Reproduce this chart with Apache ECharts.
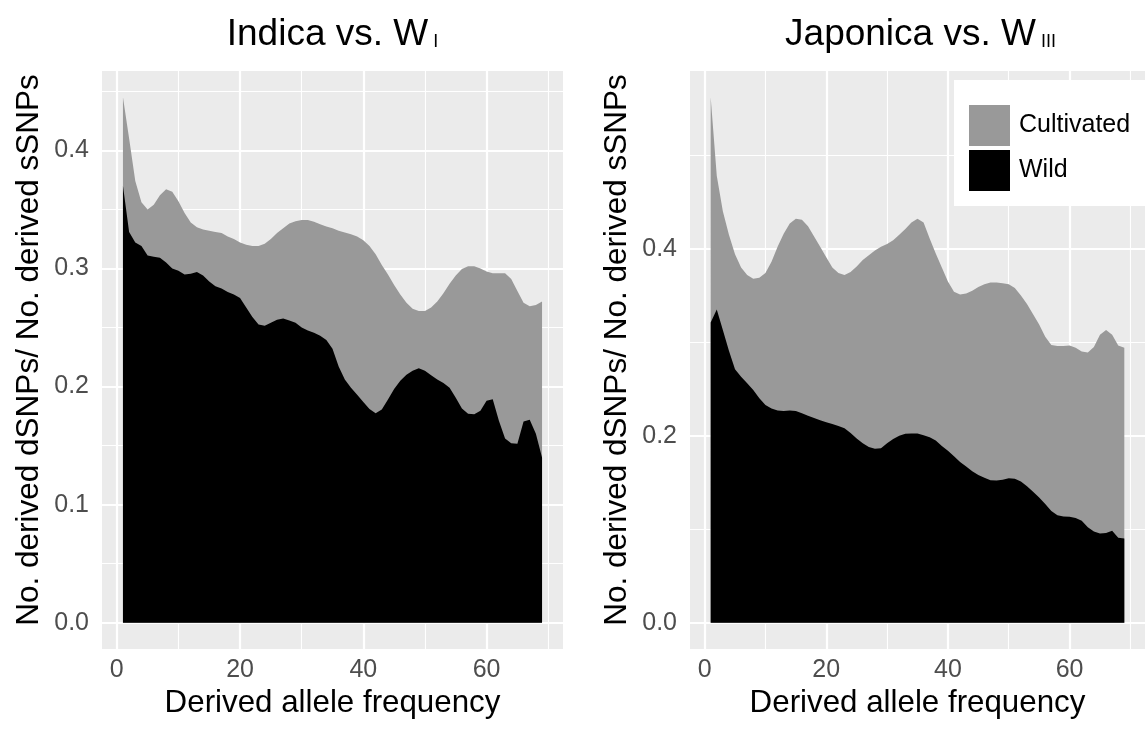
<!DOCTYPE html>
<html>
<head>
<meta charset="utf-8">
<script src="https://cdn.jsdelivr.net/npm/echarts@6/dist/echarts.min.js"></script>
<style>
  html, body { margin: 0; padding: 0; background: #ffffff; }
  #chart { width: 1145px; height: 729px; }
</style>
</head>
<body>
<div id="chart"></div>
<script>
// Derived allele frequency bins (1..69)
const freq = Array.from({ length: 69 }, (_, i) => i + 1);

// Indica vs. W_I
const indicaCultivated = [
  0.445, 0.410, 0.374, 0.356, 0.350, 0.354, 0.362, 0.367, 0.365, 0.357,
  0.347, 0.339, 0.335, 0.333, 0.332, 0.331, 0.330, 0.327, 0.325, 0.322,
  0.320, 0.319, 0.319, 0.321, 0.325, 0.330, 0.334, 0.338, 0.340, 0.341,
  0.341, 0.3395, 0.3375, 0.3355, 0.334, 0.332, 0.3305, 0.329, 0.327, 0.324,
  0.319, 0.312, 0.303, 0.295, 0.286, 0.278, 0.271, 0.266, 0.264, 0.264,
  0.267, 0.272, 0.279, 0.287, 0.294, 0.2995, 0.302, 0.302, 0.300, 0.2975,
  0.296, 0.296, 0.296, 0.291, 0.281, 0.271, 0.268, 0.269, 0.272
];
const indicaWild = [
  0.370, 0.331, 0.322, 0.319, 0.311, 0.310, 0.309, 0.305, 0.300, 0.298,
  0.295, 0.2955, 0.297, 0.294, 0.289, 0.285, 0.283, 0.280, 0.278, 0.275,
  0.267, 0.259, 0.2525, 0.2515, 0.254, 0.2565, 0.2577, 0.256, 0.254, 0.250,
  0.2475, 0.2455, 0.243, 0.2395, 0.232, 0.217, 0.206, 0.199, 0.193, 0.187,
  0.181, 0.1775, 0.1805, 0.189, 0.198, 0.205, 0.210, 0.2135, 0.2155, 0.2135,
  0.2095, 0.206, 0.203, 0.199, 0.1905, 0.1815, 0.177, 0.1765, 0.1795, 0.188,
  0.1893, 0.171, 0.156, 0.152, 0.1515, 0.1705, 0.172, 0.160, 0.140
];

// Japonica vs. W_III
const japonicaCultivated = [
  0.562, 0.478, 0.440, 0.415, 0.394, 0.380, 0.372, 0.368, 0.369, 0.374,
  0.386, 0.402, 0.416, 0.427, 0.432, 0.431, 0.424, 0.413, 0.402, 0.391,
  0.380, 0.374, 0.372, 0.375, 0.381, 0.388, 0.393, 0.398, 0.402, 0.405,
  0.409, 0.415, 0.421, 0.428, 0.432, 0.428, 0.411, 0.395, 0.380, 0.365,
  0.354, 0.351, 0.352, 0.355, 0.359, 0.362, 0.364, 0.364, 0.363, 0.362,
  0.358, 0.350, 0.341, 0.330, 0.319, 0.306, 0.297, 0.296, 0.296, 0.2965,
  0.294, 0.290, 0.289, 0.295, 0.308, 0.313, 0.308, 0.2965, 0.294
];
const japonicaWild = [
  0.321, 0.335, 0.313, 0.291, 0.271, 0.263, 0.256, 0.249, 0.240, 0.233,
  0.229, 0.227, 0.2265, 0.227, 0.2265, 0.224, 0.2215, 0.219, 0.2165, 0.2145,
  0.2125, 0.2105, 0.208, 0.203, 0.197, 0.192, 0.188, 0.186, 0.1865, 0.192,
  0.1965, 0.200, 0.202, 0.2025, 0.2025, 0.2005, 0.1985, 0.195, 0.189, 0.184,
  0.178, 0.172, 0.167, 0.162, 0.158, 0.155, 0.1525, 0.152, 0.153, 0.1545,
  0.154, 0.151, 0.146, 0.140, 0.134, 0.127, 0.1195, 0.115, 0.1137, 0.1133,
  0.112, 0.109, 0.102, 0.0975, 0.0955, 0.096, 0.0985, 0.091, 0.090
];

const seriesNames = ['Cultivated', 'Wild'];
const seriesColors = ['#999999', '#000000'];

// Tick and grid-line positions
const xTicks = [0, 20, 40, 60];
const xMinor = [10, 30, 50, 70];
const indicaYTicks = [0, 0.1, 0.2, 0.3, 0.4];
const indicaYMinor = [0.05, 0.15, 0.25, 0.35, 0.45];
const japonicaYTicks = [0, 0.2, 0.4];
const japonicaYMinor = [0.1, 0.3, 0.5];

const FONT = '"Liberation Sans", Arial, Helvetica, sans-serif';
const xTitle = 'Derived allele frequency';
const yTitle = 'No. derived dSNPs/ No. derived sSNPs';

const panels = [
  { left: 102, data: [indicaCultivated, indicaWild], yTicks: indicaYTicks, yMinor: indicaYMinor,
    title: 'Indica vs. W', sub: 'I' },
  { left: 690, data: [japonicaCultivated, japonicaWild], yTicks: japonicaYTicks, yMinor: japonicaYMinor,
    title: 'Japonica vs. W', sub: 'III' }
];

const PANEL_TOP = 71, PANEL_W = 461, PANEL_H = 578;

// ggplot-style 5% expansion of the data range
const xLo = Math.min(...freq), xHi = Math.max(...freq);
const xPad = 0.05 * (xHi - xLo);

const grids = [], xAxes = [], yAxes = [], series = [], titles = [];

panels.forEach((p, k) => {
  const yMax = Math.max(...p.data[0], ...p.data[1]);
  grids.push({
    left: p.left, top: PANEL_TOP, width: PANEL_W, height: PANEL_H,
    show: true, backgroundColor: '#EBEBEB', borderWidth: 0, containLabel: false
  });
  xAxes.push({
    type: 'value', gridIndex: k, min: xLo - xPad, max: xHi + xPad,
    axisLine: { show: false },
    splitLine: { show: false },
    axisTick: { show: true, customValues: xTicks, length: 7, lineStyle: { color: '#333333', width: 2 } },
    axisLabel: { customValues: xTicks, formatter: v => String(v), color: '#4D4D4D', fontSize: 25,
      fontFamily: FONT, margin: 9 },
    name: xTitle, nameLocation: 'middle', nameGap: 38,
    nameTextStyle: { color: '#000000', fontSize: 31.3, fontFamily: FONT }
  });
  yAxes.push({
    type: 'value', gridIndex: k, min: -0.05 * yMax, max: 1.05 * yMax,
    axisLine: { show: false },
    splitLine: { show: false },
    axisTick: { show: true, customValues: p.yTicks, length: 7, lineStyle: { color: '#333333', width: 2 } },
    axisLabel: { customValues: p.yTicks, formatter: v => v.toFixed(1), color: '#4D4D4D', fontSize: 25,
      fontFamily: FONT, margin: 13 },
    name: yTitle, nameLocation: 'middle', nameGap: 57,
    nameTextStyle: { color: '#000000', fontSize: 31.5, fontFamily: FONT, padding: [0, 0, 0, 20] }
  });

  // white panel grid lines, drawn beneath the areas
  const lines = [];
  xTicks.forEach(v => lines.push({ xAxis: v, lineStyle: { width: 2.2 } }));
  xMinor.forEach(v => lines.push({ xAxis: v, lineStyle: { width: 1.1 } }));
  p.yTicks.forEach(v => lines.push({ yAxis: v, lineStyle: { width: 2.2 } }));
  p.yMinor.forEach(v => lines.push({ yAxis: v, lineStyle: { width: 1.1 } }));
  series.push({
    type: 'line', xAxisIndex: k, yAxisIndex: k, data: [], z: 1, silent: true,
    markLine: {
      z: 1, silent: true, symbol: ['none', 'none'], animation: false,
      label: { show: false }, emphasis: { disabled: true },
      lineStyle: { color: '#FFFFFF', type: 'solid' },
      data: lines
    }
  });

  // Cultivated behind, Wild in front
  seriesNames.forEach((name, j) => {
    series.push({
      name, type: 'line', xAxisIndex: k, yAxisIndex: k, z: 3, silent: true,
      data: freq.map((x, i) => [x, p.data[j][i]]),
      symbol: 'none', showSymbol: false,
      lineStyle: { width: 0, color: seriesColors[j] },
      itemStyle: { color: seriesColors[j], borderWidth: 0 },
      areaStyle: { color: seriesColors[j], opacity: 1 }
    });
  });

  titles.push({
    text: '{m|' + p.title + '}{s|' + p.sub + '}',
    left: p.left + PANEL_W / 2, top: 9, textAlign: 'center', padding: 0,
    textStyle: {
      fontWeight: 'normal',
      rich: {
        m: { fontSize: 37, fontFamily: FONT, fontWeight: 'normal', color: '#000000', lineHeight: 44, verticalAlign: 'bottom' },
        s: { fontSize: 18, fontFamily: FONT, fontWeight: 'normal', color: '#000000', padding: [0, 0, 2, 5], verticalAlign: 'bottom' }
      }
    }
  });
});

const chart = echarts.init(document.getElementById('chart'), null, { renderer: 'canvas' });
chart.setOption({
  animation: false,
  backgroundColor: '#FFFFFF',
  title: titles,
  grid: grids,
  xAxis: xAxes,
  yAxis: yAxes,
  legend: {
    data: seriesNames, orient: 'vertical', left: 954, top: 80,
    padding: [25, 20, 15, 15], itemWidth: 41, itemHeight: 41, itemGap: 4,
    icon: 'rect', backgroundColor: '#FFFFFF', selectedMode: false,
    itemStyle: { borderWidth: 0 },
    lineStyle: { width: 0 },
    textStyle: { fontSize: 25, color: '#000000', fontFamily: FONT, padding: [0, 0, 0, 4] }
  },
  series
});
</script>
</body>
</html>
